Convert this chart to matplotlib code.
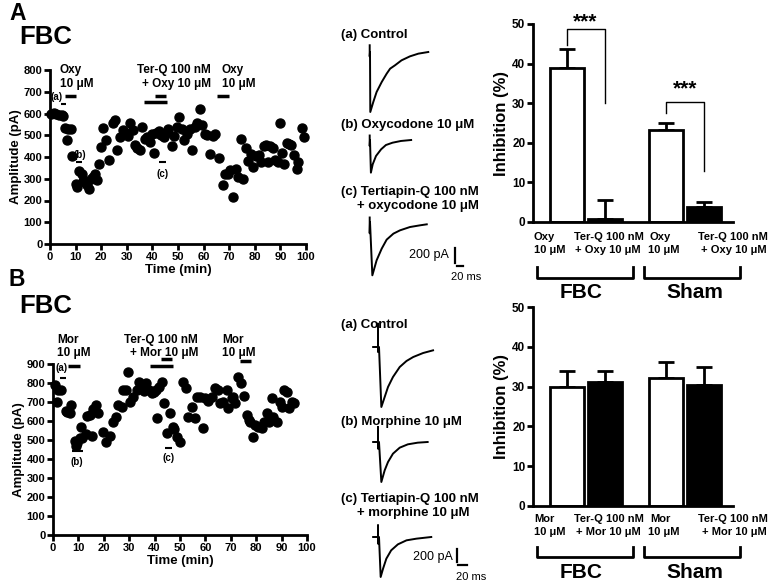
import matplotlib
matplotlib.use("Agg")
from matplotlib import pyplot as plt
from matplotlib.lines import Line2D

plt.rcParams['font.family'] = ['Liberation Sans', 'DejaVu Sans']
plt.rcParams['font.weight'] = 'bold'

# ---- time course data (min, pA) ----
time_oxy = [0.5, 1.5, 2.5, 3.5, 4.5, 5.2, 5.8, 6.5, 7, 8.3, 8.6,
            10, 10.5, 11.5, 12.5, 13, 13.8, 14.5, 15.2, 16, 16.8, 17.5, 18.3, 19,
            20, 20.8, 22, 23.2, 24.5, 25.3, 26, 27.2, 28.4, 29.5, 30.4, 31.2, 32.3, 33.3,
            34, 35, 35.8, 37, 38, 39, 40, 40.5, 41.5, 42.5, 43.5, 44.5, 45.3, 46.2, 47.5,
            48.5, 49.5, 50.5, 51.5, 52.5, 53.5, 54.5, 55.5, 56.5, 57.5, 58.5, 59.5, 60.5,
            61.5, 62.5, 63.5, 64.5, 66, 67.5, 68.5, 69.5, 70.5, 71.5, 72.5, 73.5, 74.5,
            75.5, 76.5, 77.5, 78.5, 79.3, 80.5, 81.5, 82.5, 83.5, 84.3, 85.2, 86, 87, 88,
            89, 89.8, 90.6, 91.5, 92.5, 93.5, 94.3, 95.5, 96.3, 97, 98.5, 99.3]
amp_oxy = [600, 602, 600, 595, 592, 588, 535, 480, 530, 530, 405,
           275, 262, 335, 320, 290, 285, 270, 255, 300, 310, 320, 295, 370,
           445, 535, 480, 388, 555, 572, 430, 490, 525, 510, 495, 555, 525, 455,
           440, 430, 540, 485, 490, 470, 505, 420, 510, 520, 500, 490, 510, 530, 450,
           495, 540, 585, 530, 480, 505, 530, 430, 540, 555, 620, 545, 505,
           500, 415, 495, 505, 395, 270, 320, 320, 340, 215, 345, 310, 485,
           300, 440, 380, 415, 355, 405, 410, 375, 450, 455, 375, 450, 440, 385,
           375, 555, 420, 370, 465, 460, 455, 410, 345, 375, 535, 490]

time_mor = [0.7, 1.5, 2, 3.3, 5, 5.5, 6.6, 7.2, 8.6, 9.2, 9.5, 10.5, 11.2, 11.6, 12.9,
            13.4, 14.5, 15.2, 15.8, 17.1, 17.8, 19.7, 21, 22.4, 23.7, 24.7, 25.7, 27,
            27.6, 28.7, 29.6, 30.5, 31.6, 32.9, 33.9, 34.9, 35.8, 36.8, 37.9, 38.8, 39.7,
            40.5, 40.8, 41.6, 42.8, 43.7, 44.7, 46, 47.1, 47.8, 48.7, 50, 51.3, 52.4, 53.3,
            54.6, 55.9, 56.6, 57.9, 59.2, 59.9, 61.2, 62.5, 63.8, 65.1, 65.8, 67.1, 68.4,
            69, 70.4, 71, 71.7, 73, 73.9, 75.3, 76.3, 77, 77.6, 78.9, 79.6, 80.9, 82.2,
            82.9, 84.2, 84.9, 86.2, 86.8, 88.2, 89.2, 90.1, 90.8, 92.1, 92.8, 94.1, 94.7]
amp_mor = [789, 700, 763, 763, 655, 645, 644, 684, 496, 470, 482, 509, 570, 509, 531,
           626, 630, 520, 661, 684, 644, 544, 491, 523, 596, 623, 684, 675,
           763, 763, 860, 702, 728, 763, 807, 781, 760, 798, 763, 746, 755,
           763, 614, 781, 807, 693, 535, 640, 570, 560, 518, 491, 807, 772, 623,
           675, 614, 728, 728, 561, 719, 707, 728, 772, 763, 693, 702, 763,
           667, 719, 728, 693, 833, 798, 732, 632, 605, 596, 518, 579, 570, 561,
           596, 640, 596, 719, 623, 596, 702, 675, 763, 754, 667, 702, 693]

# ---- bar data (% inhibition, mean and SEM) ----
bar_groups = ['FBC', 'Sham']
inhib_oxy = [38.8, 0.8, 23.2, 3.7]
sem_oxy = [4.9, 4.8, 1.9, 1.3]
inhib_mor = [30.0, 31.1, 32.2, 30.5]
sem_mor = [3.8, 2.9, 3.9, 4.3]
bar_fill = ['white', 'black', 'white', 'black']

# ---- example traces (ms, pA relative to baseline) ----
ctrl_a_t = [-1, -1, 0, 1, 11, 22, 39, 55.5, 67, 83, 105, 133, 161, 194]
ctrl_a_i = [90, -60, 0, -800, -666, -533, -400, -289, -222, -178, -111, -58, -22, 0]
oxy_a_t = [-1, -1, 0, 3, 9, 20, 37, 53, 75, 103, 137]
oxy_a_i = [60, -80, 0, -435, -324, -213, -124, -67, -36, -13, 0]
terq_a_t = [-1, -1, 0, 7.8, 22, 39, 55.5, 78, 100, 133, 167, 189]
terq_a_i = [60, -150, 0, -711, -511, -355, -235, -155, -111, -67, -44, -31]

ctrl_b_t = [-13, -2.2, -2.2, -2.2, 0, 5.2, 12.6, 20, 31, 46, 61, 76, 98, 120]
ctrl_b_i = [0, 0, 350, -75, 0, -900, -750, -600, -450, -300, -210, -150, -90, -50]
mor_b_t = [-13, -2.2, -2.2, -2.2, 0, 5.2, 12.6, 20, 31, 46, 64, 86, 108]
mor_b_i = [0, 0, 225, -100, 0, -600, -425, -300, -175, -85, -35, -10, 0]
terq_b_t = [-13, -2.2, -2.2, -2.2, 0, 3.7, 9, 16.3, 27, 42, 61, 83, 116]
terq_b_i = [0, 0, 175, -100, 0, -600, -475, -325, -200, -110, -50, -25, 0]

W, H = 777, 586
fig = plt.figure(figsize=(W / 100, H / 100), dpi=100)


def box(x0, y0, x1, y1):
    return [x0 / W, 1 - y1 / H, (x1 - x0) / W, (y1 - y0) / H]


def ftxt(x, y, s, **kw):
    kw.setdefault('va', 'center')
    kw.setdefault('fontweight', 'bold')
    fig.text(x / W, 1 - y / H, s, **kw)


def fline(xs, ys, lw=2):
    fig.add_artist(Line2D([x / W for x in xs], [1 - y / H for y in ys],
                          color='black', lw=lw, transform=fig.transFigure))


def style(ax, fs=8):
    for s in ['top', 'right']:
        ax.spines[s].set_visible(False)
    for s in ['left', 'bottom']:
        ax.spines[s].set_linewidth(2)
    ax.tick_params(width=2, length=4, labelsize=fs, pad=1.5)
    for lab in ax.get_xticklabels() + ax.get_yticklabels():
        lab.set_fontweight('bold')


def hbar(ax, t0, t1, y, lw=2.5):
    ax.plot([t0, t1], [y, y], color='black', lw=lw, clip_on=False,
            solid_capstyle='butt')


# ======== time courses ========
axA = fig.add_axes(box(50, 70, 306, 244))
axA.plot(time_oxy, amp_oxy, 'o', color='black', ms=6.5, clip_on=False)
axA.set_xlim(0, 100)
axA.set_ylim(0, 800)
axA.set_xticks(range(0, 101, 10))
axA.set_yticks(range(0, 801, 100))
style(axA)
axA.set_xlabel('Time (min)', fontsize=9.5, fontweight='bold', labelpad=2)
axA.set_ylabel('Amplitude (pA)', fontsize=9.5, fontweight='bold', labelpad=1)
hbar(axA, 5.9, 10.2, 680)
hbar(axA, 4.3, 6.2, 642, lw=1.5)
hbar(axA, 36.7, 45.6, 651)
hbar(axA, 41.0, 45.3, 682)
hbar(axA, 65.4, 70.0, 680)
hbar(axA, 10.2, 12.5, 378, lw=1.5)
hbar(axA, 42.7, 45.3, 375, lw=1.5)
axA.text(2.6, 676, '(a)', fontsize=7, ha='center', va='center')
axA.text(11.5, 409, '(b)', fontsize=7, ha='center', va='center')
axA.text(43.9, 322, '(c)', fontsize=7, ha='center', va='center')

axB = fig.add_axes(box(53, 364, 307, 535))
axB.plot(time_mor, amp_mor, 'o', color='black', ms=6.5, clip_on=False)
axB.set_xlim(0, 100)
axB.set_ylim(0, 900)
axB.set_xticks(range(0, 101, 10))
axB.set_yticks(range(0, 901, 100))
style(axB)
axB.set_xlabel('Time (min)', fontsize=9.5, fontweight='bold', labelpad=2)
axB.set_ylabel('Amplitude (pA)', fontsize=9.5, fontweight='bold', labelpad=1)
hbar(axB, 5.9, 10.6, 889)
hbar(axB, 2.8, 5.1, 826, lw=1.5)
hbar(axB, 38.2, 47.4, 889)
hbar(axB, 42.4, 46.7, 925)
hbar(axB, 73.7, 77.9, 917)
hbar(axB, 7.6, 11.8, 442, lw=1.5)
hbar(axB, 44.0, 46.7, 456, lw=1.5)
axB.text(3.2, 879, '(a)', fontsize=7, ha='center', va='center')
axB.text(9.2, 386, '(b)', fontsize=7, ha='center', va='center')
axB.text(45.4, 403, '(c)', fontsize=7, ha='center', va='center')

ftxt(9, 14, 'A', fontsize=16.5)
ftxt(19, 37, 'FBC', fontsize=18.5)
ftxt(9, 279, 'B', fontsize=16.5)
ftxt(19, 306, 'FBC', fontsize=18.5)

fs_drug = 8.5
ftxt(60, 70, 'Oxy', fontsize=fs_drug)
ftxt(60, 84, '10 μM', fontsize=fs_drug)
ftxt(211, 70, 'Ter-Q 100 nM', fontsize=fs_drug, ha='right')
ftxt(211, 84, '+ Oxy 10 μM', fontsize=fs_drug, ha='right')
ftxt(222, 70, 'Oxy', fontsize=fs_drug)
ftxt(222, 84, '10 μM', fontsize=fs_drug)

ftxt(57, 340, 'Mor', fontsize=fs_drug)
ftxt(57, 353, '10 μM', fontsize=fs_drug)
ftxt(198, 340, 'Ter-Q 100 nM', fontsize=fs_drug, ha='right')
ftxt(198, 353, '+ Mor 10 μM', fontsize=fs_drug, ha='right')
ftxt(222, 340, 'Mor', fontsize=fs_drug)
ftxt(222, 353, '10 μM', fontsize=fs_drug)

# ======== example traces ========
def trace_axes(x0, y0, x1, y1, ms_px, pa_px):
    ax = fig.add_axes(box(x0, y0, x1, y1))
    ax.set_xlim(0, (x1 - x0) * ms_px)
    ax.set_ylim(-(y1 - y0) * pa_px, 0)
    ax.axis('off')
    return ax


ms_a, pa_a = 3.33, 13.33
tA = trace_axes(340, 30, 490, 290, ms_a, pa_a)
for tt, ii, bx, by in [(ctrl_a_t, ctrl_a_i, 370, 52), (oxy_a_t, oxy_a_i, 370, 140),
                       (terq_a_t, terq_a_i, 370, 222)]:
    tA.plot([(bx - 340) * ms_a + t for t in tt],
            [-(by - 30) * pa_a + i for i in ii], color='black', lw=1.4)
# scale bars 200 pA / 20 ms
tA.plot([(455 - 340) * ms_a] * 2, [-(263 - 30) * pa_a, -(263 - 30) * pa_a + 200],
        color='black', lw=1.6)
tA.plot([(457 - 340) * ms_a, (457 - 340) * ms_a + 20], [-(266 - 30) * pa_a] * 2,
        color='black', lw=1.6)

ms_b, pa_b = 2.22, 15.0
tB = trace_axes(340, 315, 490, 586, ms_b, pa_b)
for tt, ii, bx, by in [(ctrl_b_t, ctrl_b_i, 379, 347), (mor_b_t, mor_b_i, 379, 442),
                       (terq_b_t, terq_b_i, 379, 537)]:
    tB.plot([(bx - 340) * ms_b + t for t in tt],
            [-(by - 315) * pa_b + i for i in ii], color='black', lw=1.4)
tB.plot([(457 - 340) * ms_b] * 2, [-(562 - 315) * pa_b, -(562 - 315) * pa_b + 200],
        color='black', lw=1.6)
tB.plot([(458 - 340) * ms_b, (458 - 340) * ms_b + 20], [-(565 - 315) * pa_b] * 2,
        color='black', lw=1.6)

fs_tr = 9.5
ftxt(341, 35, '(a) Control', fontsize=fs_tr)
ftxt(341, 125, '(b) Oxycodone 10 μM', fontsize=fs_tr)
ftxt(341, 192, '(c) Tertiapin-Q 100 nM', fontsize=fs_tr)
ftxt(357, 206, '+ oxycodone 10 μM', fontsize=fs_tr)
ftxt(449, 255, '200 pA', fontsize=9, fontweight='normal', ha='right')
ftxt(451, 277, '20 ms', fontsize=8, fontweight='normal')

ftxt(341, 325, '(a) Control', fontsize=fs_tr)
ftxt(341, 422, '(b) Morphine 10 μM', fontsize=fs_tr)
ftxt(341, 499, '(c) Tertiapin-Q 100 nM', fontsize=fs_tr)
ftxt(357, 513, '+ morphine 10 μM', fontsize=fs_tr)
ftxt(453, 557, '200 pA', fontsize=9, fontweight='normal', ha='right')
ftxt(456, 577, '20 ms', fontsize=8, fontweight='normal')

# ======== bar charts ========
bar_pos = [1.02, 2.15, 4.0, 5.12]


def bar_panel(rect, vals, errs):
    ax = fig.add_axes(rect)
    ax.bar(bar_pos, vals, width=1.02, color=bar_fill, edgecolor='black', lw=2,
           zorder=2)
    ax.errorbar(bar_pos, vals, yerr=[[0] * 4, errs], fmt='none', ecolor='black',
                elinewidth=2, capsize=5.5, capthick=2, zorder=1)
    ax.set_xlim(0, 6)
    ax.set_ylim(0, 50)
    ax.set_xticks([])
    ax.set_yticks(range(0, 51, 10))
    style(ax, fs=8.5)
    ax.set_ylabel('Inhibition (%)', fontsize=12, fontweight='bold', labelpad=2)
    return ax


bA = bar_panel(box(533, 24, 733, 222), inhib_oxy, sem_oxy)
bA.plot([bar_pos[0], bar_pos[0], bar_pos[1], bar_pos[1]], [44.7, 48.7, 48.7, 30],
        color='black', lw=1, clip_on=False)
bA.text(1.56, 49.2, '***', ha='center', va='baseline', fontsize=15, clip_on=False)
bA.plot([bar_pos[2], bar_pos[2], bar_pos[3], bar_pos[3]], [27.5, 30.2, 30.2, 13],
        color='black', lw=1, clip_on=False)
bA.text(4.56, 32.3, '***', ha='center', va='baseline', fontsize=15)

bB = bar_panel(box(533, 307, 733, 506), inhib_mor, sem_mor)

fs_bl = 8
for y1, y2, drug in [(237, 250, 'Oxy'), (519, 532, 'Mor')]:
    ftxt(534, y1, drug, fontsize=fs_bl)
    ftxt(534, y2, '10 μM', fontsize=fs_bl)
    ftxt(609, y1, 'Ter-Q 100 nM', fontsize=fs_bl, ha='center')
    ftxt(608, y2, '+ %s 10 μM' % drug, fontsize=fs_bl, ha='center')
    ftxt(650, y1, drug, fontsize=fs_bl)
    ftxt(648, y2, '10 μM', fontsize=fs_bl)
    ftxt(733, y1, 'Ter-Q 100 nM', fontsize=fs_bl, ha='center')
    ftxt(734, y2, '+ %s 10 μM' % drug, fontsize=fs_bl, ha='center')

for top, bot, ylab in [(267, 278, 293), (547, 557, 573)]:
    fline([537, 537, 633, 633], [top, bot, bot, top])
    fline([644, 644, 740, 740], [top, bot, bot, top])
    ftxt(581, ylab, bar_groups[0], fontsize=15, ha='center')
    ftxt(695, ylab, bar_groups[1], fontsize=15, ha='center')

fig.savefig('out.png', dpi=100)
